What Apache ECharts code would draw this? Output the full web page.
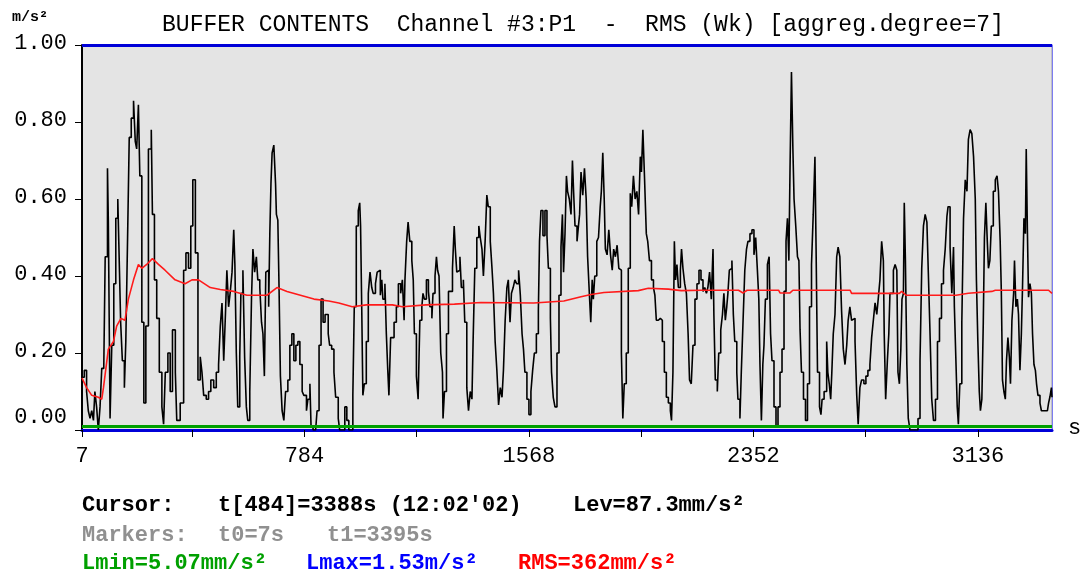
<!DOCTYPE html>
<html>
<head>
<meta charset="utf-8">
<script src="https://cdn.jsdelivr.net/npm/echarts@6/dist/echarts.min.js"></script>
<style>
html,body{margin:0;padding:0;background:#ffffff;}
#chart{width:1080px;height:578px;}
</style>
</head>
<body>
<div id="chart"></div>
<script>
// ---- data (time in s, level in m/s²) ----
const times = [7,15,23,29,35,41,47,52,58,64,70,76,83,88,96,99,105,111,118,125,132,138,142,148,155,160,166,172,179,187,193,198,204,209,216,223,230,239,249,253,260,268,277,286,292,298,307,315,323,333,338,350,362,370,379,387,394,403,412,
420,426,432,441,449,457,467,476,484,490,496,502,508,513,519,525,531,537,541,546,551,558,562,569,575,581,586,593,599,604,610,616,621,628,634,639,644,649,653,659,663,667,671,677,683,686,691,695,700,706,712,718,726,733,740,747,754,761,768,776,782,791,796,803,807,814,823,828,835,842,849,856,
867,872,879,887,893,902,907,916,925,932,939,946,953,958,965,972,977,980,984,988,993,1000,1007,1013,1019,1024,1032,1038,1044,1049,1054,1058,1065,1070,1075,1079,1085,1091,1097,1105,1112,1120,1126,1132,1135,1141,1146,1152,1159,1164,1168,1175,1181,1187,1194,1198,1203,1210,1217,1222,1229,1233,1240,1245,1249,1254,1260,1266,1268,1273,1280,1287,
1301,1307,1311,1316,1321,1327,1332,1339,1344,1351,1357,1363,1369,1373,1379,1386,1393,1398,1404,1409,1415,1421,1426,1433,1439,1444,1450,1456,1462,1468,1474,1479,1485,1491,1496,1502,1507,1513,1519,1525,1532,1538,1544,1549,1554,1561,1568,1575,1581,1587,1594,1601,1605,1610,1617,1624,1631,1636,1643,1647,1653,1659,1666,1673,1680,1685,1689,1694,1699,1703,1709,1715,1720,1724,1729,1736,1741,1745,
1750,1756,1762,1768,1773,1779,1784,1789,1793,1798,1805,1811,1817,1821,1826,1831,1835,1841,1847,1853,1859,1864,1870,1876,1882,1887,1891,1896,1901,1908,1915,1922,1927,1933,1939,1945,1951,1957,1961,1966,1972,1978,1983,1989,1996,2003,2008,2013,2020,2027,2034,2041,2048,2055,2062,2066,2071,2076,2080,2085,2090,2097,2101,2106,2112,2118,2124,2129,2135,2141,2148,2155,2162,2169,
2176,2182,2188,2193,2199,2205,2211,2214,2219,2226,2231,2238,2244,2249,2254,2259,2263,2268,2273,2277,2282,2287,2294,2298,2305,2310,2316,2322,2328,2333,2340,2347,2354,2360,2366,2371,2375,2380,2385,2389,2394,2401,2407,2412,2417,2424,2431,2438,2445,2452,2459,2466,2471,2476,2480,2485,2490,2494,2500,2506,2511,2515,2520,2527,2534,2541,2548,2555,2561,2567,2571,2576,2583,2588,2592,2599,
2608,2612,2617,2622,2626,2631,2637,2643,2648,2654,2660,2666,2672,2678,2683,2689,2695,2701,2707,2713,2718,2724,2730,2738,2745,2752,2759,2765,2771,2777,2783,2788,2794,2800,2806,2809,2814,2820,2825,2829,2835,2841,2847,2853,2857,2862,2867,2871,2876,2879,2883,2888,2893,2899,2906,2913,2920,2927,2934,2940,2946,2952,2958,2963,2969,2975,2981,2988,2995,3002,3009,3016,3022,3028,3032,3039,
3045,3051,3054,3059,3064,3068,3073,3080,3086,3092,3098,3103,3109,3115,3121,3127,3131,3136,3141,3145,3150,3155,3159,3164,3169,3173,3178,3183,3190,3197,3203,3208,3214,3218,3222,3227,3232,3236,3241,3246,3250,3255,3261,3264,3269,3274,3278,3283,3288,3292,3297,3302,3305,3309,3313,3318,3323,3327,3332,3337,3341,3346,3353,3358,3365,3372,3379,3383,3388,3393,3395];
const levels = [0.137,0.155,0.10,0.05,0.03,0.05,0.025,0.10,0.06,0.0,0.06,0.16,0.16,0.45,0.68,0.54,0.03,0.22,0.38,0.55,0.60,0.41,0.28,0.18,0.11,0.23,0.49,0.76,0.81,0.855,0.75,0.73,0.845,0.66,0.28,0.07,0.27,0.73,0.78,0.56,0.39,0.29,0.15,0.06,0.015,0.15,0.20,0.10,0.26,0.15,0.025,0.07,0.415,0.46,0.42,0.53,0.65,0.46,0.13,
0.19,0.15,0.09,0.08,0.10,0.13,0.11,0.15,0.17,0.27,0.33,0.18,0.30,0.415,0.32,0.36,0.41,0.52,0.43,0.20,0.06,0.19,0.355,0.415,0.19,0.06,0.025,0.10,0.34,0.47,0.41,0.45,0.39,0.37,0.28,0.25,0.14,0.41,0.415,0.32,0.51,0.64,0.72,0.74,0.64,0.56,0.545,0.38,0.14,0.05,0.025,0.10,0.13,0.22,0.25,0.18,0.22,0.23,0.17,0.10,0.09,0.05,0.08,0.12,0.01,0.0,0.0,0.05,0.22,0.34,0.28,0.30,
0.25,0.22,0.21,0.15,0.085,0.03,0.0,0.0,0.06,0.025,0.0,0.0,0.09,0.32,0.53,0.57,0.59,0.53,0.32,0.09,0.12,0.23,0.355,0.41,0.37,0.355,0.38,0.41,0.415,0.35,0.39,0.34,0.38,0.25,0.155,0.09,0.24,0.24,0.28,0.32,0.38,0.355,0.39,0.285,0.39,0.49,0.54,0.49,0.44,0.39,0.25,0.14,0.08,0.285,0.32,0.355,0.34,0.39,0.36,0.32,0.29,0.355,0.40,0.45,0.415,0.40,0.20,0.15,0.03,0.10,0.25,0.36,
0.42,0.53,0.47,0.41,0.415,0.45,0.37,0.39,0.28,0.11,0.05,0.10,0.08,0.23,0.42,0.50,0.53,0.50,0.47,0.40,0.49,0.61,0.58,0.49,0.42,0.355,0.23,0.155,0.065,0.11,0.085,0.155,0.285,0.37,0.39,0.28,0.355,0.37,0.39,0.38,0.415,0.35,0.25,0.21,0.15,0.08,0.04,0.10,0.155,0.20,0.25,0.31,0.49,0.57,0.505,0.57,0.505,0.42,0.29,0.15,0.085,0.06,0.20,0.35,0.475,0.56,0.41,0.51,0.66,0.62,0.60,0.56,0.70,0.62,0.53,0.49,0.53,0.56,
0.67,0.61,0.68,0.60,0.45,0.355,0.28,0.39,0.34,0.40,0.49,0.50,0.58,0.62,0.72,0.60,0.47,0.455,0.52,0.455,0.415,0.47,0.45,0.48,0.42,0.415,0.20,0.03,0.12,0.20,0.42,0.615,0.58,0.66,0.60,0.62,0.56,0.71,0.67,0.78,0.65,0.51,0.49,0.44,0.39,0.37,0.35,0.285,0.29,0.285,0.23,0.15,0.085,0.07,0.05,0.025,0.15,0.49,0.39,0.43,0.37,0.415,0.47,0.42,0.38,0.355,0.25,0.13,0.12,0.22,0.34,0.38,0.415,0.39,
0.36,0.37,0.355,0.37,0.41,0.34,0.47,0.30,0.13,0.10,0.20,0.26,0.30,0.355,0.285,0.32,0.355,0.415,0.42,0.44,0.30,0.23,0.15,0.08,0.03,0.155,0.285,0.415,0.47,0.49,0.51,0.52,0.455,0.50,0.415,0.34,0.17,0.025,0.17,0.22,0.34,0.43,0.45,0.25,0.18,0.06,0.01,0.06,0.15,0.21,0.36,0.49,0.55,0.44,0.68,0.93,0.73,0.60,0.53,0.45,0.44,0.26,0.15,0.08,0.025,0.12,0.32,0.43,0.56,0.71,0.47,0.15,0.06,0.04,0.08,0.10,
0.23,0.15,0.12,0.08,0.15,0.25,0.30,0.45,0.475,0.45,0.31,0.21,0.17,0.22,0.285,0.32,0.285,0.29,0.23,0.09,0.015,0.11,0.13,0.12,0.14,0.155,0.17,0.24,0.285,0.33,0.30,0.34,0.39,0.49,0.44,0.25,0.08,0.18,0.25,0.355,0.355,0.415,0.43,0.415,0.15,0.12,0.21,0.34,0.355,0.59,0.44,0.17,0.03,0.0,0.0,0.0,0.0,0.03,0.18,0.42,0.53,0.56,0.54,0.41,0.25,0.08,0.025,0.08,0.23,0.29,0.38,0.415,0.47,0.555,0.58,0.475,
0.355,0.475,0.32,0.19,0.06,0.015,0.12,0.28,0.55,0.65,0.62,0.755,0.78,0.77,0.71,0.60,0.39,0.23,0.10,0.05,0.08,0.28,0.50,0.59,0.49,0.42,0.44,0.53,0.62,0.65,0.66,0.62,0.49,0.36,0.13,0.10,0.08,0.18,0.24,0.19,0.12,0.285,0.355,0.44,0.32,0.34,0.30,0.155,0.25,0.37,0.55,0.51,0.73,0.52,0.345,0.38,0.355,0.25,0.17,0.155,0.12,0.09,0.07,0.05,0.05,0.05,0.05,0.07,0.087,0.11,0.085];

const rmsTimes  = [7,23,41,64,76,82,99,117,128,143,157,169,187,204,216,233,253,274,297,332,367,391,414,455,490,537,583,653,688,723,770,817,869,904,951,1000,1091,1126,1208,1308,1400,1585,1690,1750,1785,1830,1950,1985,2055,2100,2170,2300,2316,2330,2440,2445,2480,2490,2620,2690,2695,2862,2870,2885,3060,3103,3185,3197,3383,3395];
const rmsValues = [0.135,0.11,0.09,0.085,0.08,0.11,0.21,0.23,0.27,0.29,0.285,0.34,0.39,0.43,0.42,0.43,0.445,0.43,0.415,0.39,0.38,0.39,0.39,0.37,0.365,0.36,0.35,0.35,0.37,0.36,0.35,0.34,0.335,0.33,0.32,0.325,0.325,0.32,0.325,0.327,0.331,0.33,0.335,0.346,0.352,0.357,0.362,0.368,0.366,0.362,0.363,0.363,0.356,0.363,0.363,0.356,0.356,0.363,0.363,0.363,0.355,0.355,0.36,0.35,0.35,0.355,0.36,0.363,0.363,0.355];

const lmin = 0.00507;   // m/s²
const lmax = 1.53;      // m/s² (above the axis range, drawn at the top edge)
const xTickValues  = [7, 392, 784, 1176, 1568, 1960, 2352, 2744, 3136];
const xLabelValues = [7, 784, 1568, 2352, 3136];
const xRange = [7, 3395];
const yRange = [0, 1];

const MONO = '"Liberation Mono","DejaVu Sans Mono",monospace';
const chart = echarts.init(document.getElementById('chart'), null, {renderer: 'canvas'});

const textEl = (x, y, s, color, bold, size) => ({
  type: 'text', left: x, top: y,
  style: {text: s, fill: color, font: (bold ? 'bold ' : '') + (size || 22) + 'px ' + MONO}
});

chart.setOption({
  animation: false,
  backgroundColor: '#ffffff',
  grid: {left: 82, right: 28, top: 45, bottom: 148, show: true, backgroundColor: '#e4e4e4', borderColor: '#9a9aa8', borderWidth: 1},
  title: {
    text: 'BUFFER CONTENTS  Channel #3:P1  -  RMS (Wk) [aggreg.degree=7]',
    left: 578, top: 8, textAlign: 'center',
    textStyle: {fontFamily: MONO, fontSize: 23, fontWeight: 'normal', color: '#000'}
  },
  xAxis: [{
    type: 'value', min: xRange[0], max: xRange[1],
    axisLine: {show: true, onZero: false, lineStyle: {color: '#000', width: 1}},
    axisTick: {show: true, customValues: xTickValues, length: 7, lineStyle: {color: '#000'}},
    axisLabel: {customValues: xLabelValues, margin: 15, fontFamily: MONO, fontSize: 22, color: '#000',
                showMinLabel: true, showMaxLabel: true, formatter: v => String(v)},
    splitLine: {show: false}
  }, {
    type: 'value', position: 'top', min: xRange[0], max: xRange[1],
    axisLine: {show: true, lineStyle: {color: '#0000d8', width: 3}},
    axisTick: {show: false}, axisLabel: {show: false}, splitLine: {show: false}
  }],
  yAxis: [{
    type: 'value', min: yRange[0], max: yRange[1], interval: 0.2,
    axisLine: {show: true, lineStyle: {color: '#000', width: 2}},
    axisTick: {show: true, length: 7, lineStyle: {color: '#000'}},
    axisLabel: {
      margin: 15, color: '#000',
      formatter: v => (Math.abs(v) < 1e-9 ? '{z|' : '{n|') + v.toFixed(2) + '}',
      rich: {
        n: {fontFamily: MONO, fontSize: 22, color: '#000', padding: [0, 0, 4, 0]},
        z: {fontFamily: MONO, fontSize: 22, color: '#000', padding: [0, 0, 26, 0]}
      }
    },
    splitLine: {show: false}
  }, {
    type: 'value', position: 'right', min: yRange[0], max: yRange[1],
    axisLine: {show: true, lineStyle: {color: '#7c7cf0', width: 1}},
    axisTick: {show: false}, axisLabel: {show: false}, splitLine: {show: false}
  }],
  series: [{
    name: 'level', type: 'line', step: 'end', showSymbol: false, clip: true,
    data: times.map((t, i) => [t, levels[i]]),
    lineStyle: {color: '#000', width: 1.6},
    z: 3,
    markLine: {
      silent: true, symbol: 'none', label: {show: false},
      data: [
        {yAxis: lmin, lineStyle: {color: '#00a000', width: 3, type: 'solid'}},
        {yAxis: Math.min(lmax, yRange[1]), lineStyle: {color: '#0000d8', width: 3, type: 'solid'}}
      ]
    }
  }, {
    name: 'RMS', type: 'line', showSymbol: false, clip: true,
    data: rmsTimes.map((t, i) => [t, rmsValues[i]]),
    lineStyle: {color: '#ff1a1a', width: 1.6},
    z: 4
  }],
  graphic: [
    textEl(12, 10, 'm/s²', '#000', true, 15),
    textEl(1068, 417, 's', '#000', false, 22),
    textEl(82, 494, 'Cursor:', '#000', true),
    textEl(218, 494, "t[484]=3388s (12:02'02)", '#000', true),
    textEl(573, 494, 'Lev=87.3mm/s²', '#000', true),
    textEl(82, 524, 'Markers:', '#909090', true),
    textEl(218, 524, 't0=7s', '#909090', true),
    textEl(327, 524, 't1=3395s', '#909090', true),
    textEl(82, 552, 'Lmin=5.07mm/s²', '#00a000', true),
    textEl(306, 552, 'Lmax=1.53m/s²', '#0000ff', true),
    textEl(518, 552, 'RMS=362mm/s²', '#ff0000', true)
  ]
});
</script>
</body>
</html>
